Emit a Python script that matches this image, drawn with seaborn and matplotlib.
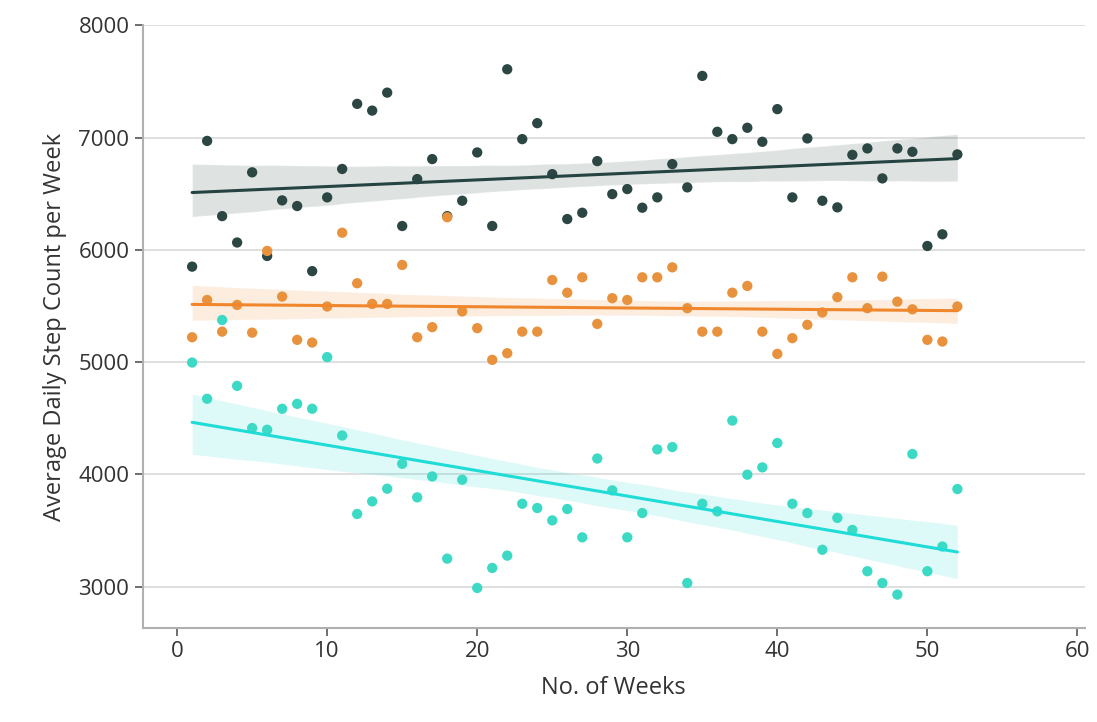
import numpy as np
import pandas as pd
import matplotlib
matplotlib.use("Agg")
import matplotlib.pyplot as plt
import seaborn as sns

weeks = list(range(1, 53))

dark_steps = [5850, 6970, 6300, 6065, 6690, 5945, 6440, 6390, 5810, 6467,
              6720, 7300, 7240, 7400, 6212, 6630, 6808, 6300, 6437, 6867,
              6212, 7608, 6986, 7128, 6674, 6274, 6330, 6790, 6496, 6541,
              6375, 6467, 6763, 6556, 7549, 7051, 6986, 7087, 6962, 7253,
              6467, 6992, 6437, 6378, 6846, 6903, 6636, 6903, 6873, 6034,
              6138, 6850]

orange_steps = [5221, 5553, 5271, 5509, 5262, 5990, 5583, 5198, 5174, 5495,
                6152, 5702, 5518, 5518, 5865, 5221, 5311, 6290, 5451, 5302,
                5020, 5079, 5271, 5271, 5731, 5618, 5755, 5340, 5569, 5553,
                5755, 5755, 5844, 5480, 5271, 5271, 5618, 5678, 5271, 5073,
                5213, 5332, 5442, 5578, 5755, 5480, 5761, 5538, 5470, 5198,
                5183, 5495]

teal_steps = [4996, 4673, 5375, 4788, 4412, 4397, 4584, 4628, 4584, 5044,
              4346, 3647, 3759, 3872, 4094, 3795, 3981, 3249, 3952, 2988,
              3166, 3276, 3738, 3700, 3590, 3691, 3439, 4141, 3857, 3439,
              3655, 4222, 4243, 3032, 3738, 3670, 4479, 3997, 4062, 4279,
              3738, 3655, 3328, 3612, 3505, 3137, 3032, 2929, 4181, 3137,
              3357, 3869]

series_names = ["dark", "orange", "teal"]
point_colors = ["#2b4643", "#e8923e", "#3cd9c4"]
line_colors = ["#254340", "#f0872c", "#1fdcd6"]

x_ticks = [0, 10, 20, 30, 40, 50, 60]
y_ticks = [3000, 4000, 5000, 6000, 7000, 8000]

df = pd.DataFrame({
    "week": weeks * 3,
    "steps": dark_steps + orange_steps + teal_steps,
    "group": ["dark"] * 52 + ["orange"] * 52 + ["teal"] * 52,
})

sns.set_theme(style="white")
plt.rcParams["font.family"] = ["Open Sans", "DejaVu Sans"]

fig = plt.figure(figsize=(10.97, 7.22), dpi=100)
ax = fig.add_axes([0.130, 0.130, 0.859, 0.835])

for name, pc, lc in zip(series_names, point_colors, line_colors):
    sub = df[df["group"] == name]
    sns.regplot(data=sub, x="week", y="steps", ax=ax, ci=95, n_boot=1000, seed=3,
                scatter_kws={"s": 55, "color": pc, "alpha": 1.0, "edgecolor": "none", "zorder": 3},
                line_kws={"color": lc, "lw": 2.2, "zorder": 4})

ax.set_xlim(-2.3, 60.5)
ax.set_ylim(2630, 8000)
ax.set_xticks(x_ticks)
ax.set_yticks(y_ticks)
ax.yaxis.grid(True, color="#dcdcdc", lw=1.3)
ax.xaxis.grid(False)
ax.set_axisbelow(True)
for side in ["top", "right"]:
    ax.spines[side].set_visible(False)
for side in ["left", "bottom"]:
    ax.spines[side].set_color("#b0b0b0")
    ax.spines[side].set_linewidth(1.5)
ax.tick_params(axis="both", which="both", length=6, width=1.2, color="#555555",
               labelsize=16, labelcolor="#333333", left=True, bottom=True)
ax.set_xlabel("No. of Weeks", fontsize=17, color="#333333", labelpad=10)
ax.set_ylabel("Average Daily Step Count per Week", fontsize=17, color="#333333", labelpad=8)

fig.savefig("out.png", dpi=100)
